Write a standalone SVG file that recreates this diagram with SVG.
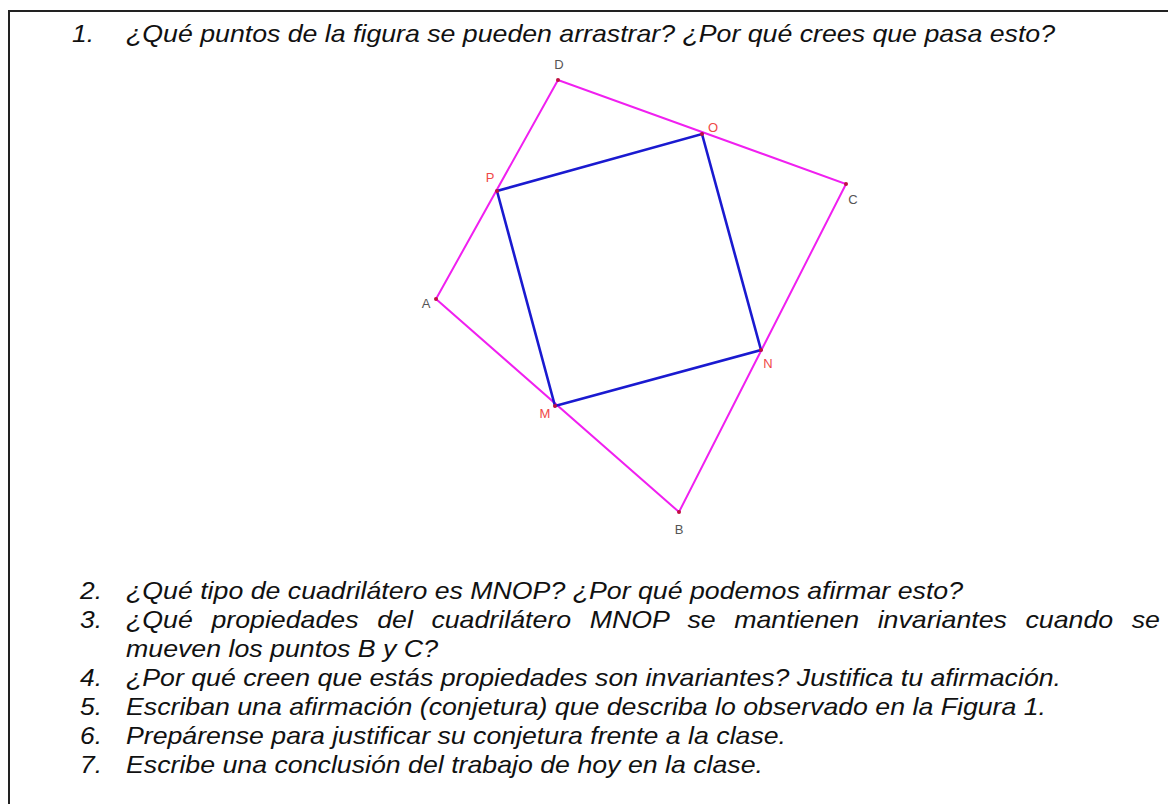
<svg xmlns="http://www.w3.org/2000/svg" width="1168" height="804" viewBox="0 0 1168 804">
<style>
.q{font-family:"Liberation Sans",Arial,sans-serif;font-style:italic;font-size:24px;fill:#111}
.lbl{font-family:"Liberation Sans",Arial,sans-serif;font-size:13px;text-anchor:middle}
.g{fill:#555}
.r{fill:#f04848}
.sq{stroke:#f020f0;stroke-width:2;fill:none}
.in{stroke:#1a1ad0;stroke-width:2.6;fill:none}
.pt{fill:#c01040}
</style>
<rect width="1168" height="804" fill="#fff"/>
<g id="frame">
<path d="M9,804 V11 H1168" stroke="#222" stroke-width="2" fill="none"/>
</g>
<g id="questions">
<text class="q" x="72" y="42" textLength="22" lengthAdjust="spacingAndGlyphs">1.</text>
<text class="q" x="126" y="42" textLength="929" lengthAdjust="spacingAndGlyphs">¿Qué puntos de la figura se pueden arrastrar? ¿Por qué crees que pasa esto?</text>
<text class="q" x="80" y="599" textLength="22" lengthAdjust="spacingAndGlyphs">2.</text>
<text class="q" x="126" y="599" textLength="837" lengthAdjust="spacingAndGlyphs">¿Qué tipo de cuadrilátero es MNOP? ¿Por qué podemos afirmar esto?</text>
<text class="q" x="80" y="628" textLength="22" lengthAdjust="spacingAndGlyphs">3.</text>
<text class="q" x="126" y="628" word-spacing="10" textLength="1034" lengthAdjust="spacingAndGlyphs">¿Qué propiedades del cuadrilátero MNOP se mantienen invariantes cuando se</text>
<text class="q" x="126" y="657" textLength="312" lengthAdjust="spacingAndGlyphs">mueven los puntos B y C?</text>
<text class="q" x="80" y="686" textLength="22" lengthAdjust="spacingAndGlyphs">4.</text>
<text class="q" x="126" y="686" textLength="935" lengthAdjust="spacingAndGlyphs">¿Por qué creen que estás propiedades son invariantes? Justifica tu afirmación.</text>
<text class="q" x="80" y="715" textLength="22" lengthAdjust="spacingAndGlyphs">5.</text>
<text class="q" x="126" y="715" textLength="920" lengthAdjust="spacingAndGlyphs">Escriban una afirmación (conjetura) que describa lo observado en la Figura 1.</text>
<text class="q" x="80" y="744" textLength="22" lengthAdjust="spacingAndGlyphs">6.</text>
<text class="q" x="126" y="744" textLength="660" lengthAdjust="spacingAndGlyphs">Prepárense para justificar su conjetura frente a la clase.</text>
<text class="q" x="80" y="773" textLength="22" lengthAdjust="spacingAndGlyphs">7.</text>
<text class="q" x="126" y="773" textLength="637" lengthAdjust="spacingAndGlyphs">Escribe una conclusión del trabajo de hoy en la clase.</text>
</g>
<g id="connectors">
<polygon class="sq" points="436,299 558,80 846,184 679,512"/>
<polygon class="in" points="555,406 761,350 702,134 497,191"/>
</g>
<g id="A"><circle class="pt" cx="436" cy="299" r="2"/><text class="lbl g" x="426" y="308">A</text></g>
<g id="B"><circle class="pt" cx="679" cy="512" r="2"/><text class="lbl g" x="679" y="534">B</text></g>
<g id="C"><circle class="pt" cx="846" cy="184" r="2"/><text class="lbl g" x="853" y="204">C</text></g>
<g id="D"><circle class="pt" cx="558" cy="80" r="2"/><text class="lbl g" x="559" y="69">D</text></g>
<g id="M"><circle class="pt" cx="555" cy="406" r="2"/><text class="lbl r" x="545" y="418">M</text></g>
<g id="N"><circle class="pt" cx="761" cy="350" r="2"/><text class="lbl r" x="768" y="368">N</text></g>
<g id="O"><circle class="pt" cx="702" cy="134" r="2"/><text class="lbl r" x="713" y="132">O</text></g>
<g id="P"><circle class="pt" cx="497" cy="191" r="2"/><text class="lbl r" x="490" y="182">P</text></g>
</svg>
